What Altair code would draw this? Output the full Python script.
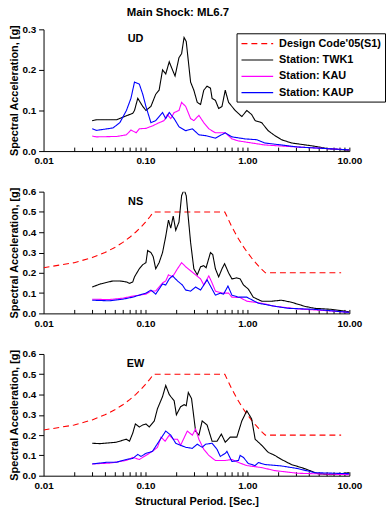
import altair as alt
import pandas as pd

# ---------------- data (periods in sec, spectral acceleration in g) ----------------
SERIES = ["Design Code'05(S1)", "Station: TWK1", "Station: KAU", "Station: KAUP"]
COLORS = ["#ff0000", "#000000", "#ff00ff", "#0000ff"]
DASHES = [[6, 4], [1, 0], [1, 0], [1, 0]]

code_T = [0.01, 0.02, 0.03, 0.04, 0.05, 0.06, 0.07, 0.08, 0.09, 0.10, 0.11, 0.12,
          0.60, 0.70, 0.80, 0.90, 1.00, 1.10, 1.20, 1.30, 1.40, 1.50, 8.3]
code_Sa = [0.225, 0.25, 0.275, 0.30, 0.325, 0.35, 0.375, 0.40, 0.425, 0.45, 0.475, 0.50,
           0.50, 0.4286, 0.375, 0.333, 0.30, 0.273, 0.25, 0.231, 0.214, 0.20, 0.20]

# UD
ud_twk1_T = [0.03, 0.033, 0.052, 0.065, 0.075, 0.078, 0.084, 0.094, 0.101, 0.113, 0.126, 0.136,
             0.147, 0.158, 0.171, 0.184, 0.195, 0.213, 0.226, 0.239, 0.251, 0.277, 0.298, 0.322,
             0.347, 0.373, 0.402, 0.434, 0.45, 0.485, 0.522, 0.563, 0.606, 0.653, 0.759, 0.881,
             0.986, 1.10, 1.19, 1.38, 1.60, 1.86, 2.16, 2.70, 4.55, 6.13, 10.0]
ud_twk1_Sa = [0.075, 0.077, 0.077, 0.087, 0.093, 0.10, 0.13, 0.11, 0.10, 0.11, 0.14, 0.15,
              0.20, 0.19, 0.22, 0.20, 0.185, 0.23, 0.24, 0.28, 0.27, 0.17, 0.15, 0.12,
              0.115, 0.15, 0.16, 0.155, 0.13, 0.125, 0.105, 0.11, 0.15, 0.12, 0.10, 0.085,
              0.10, 0.09, 0.075, 0.07, 0.05, 0.038, 0.028, 0.02, 0.012, 0.006, 0.002]
ud_kau_T = [0.03, 0.033, 0.052, 0.065, 0.072, 0.081, 0.087, 0.101, 0.117, 0.136, 0.152, 0.164,
            0.177, 0.191, 0.213, 0.226, 0.248, 0.277, 0.298, 0.334, 0.373, 0.418, 0.485, 0.606,
            0.704, 0.817, 1.10, 1.48, 3.13, 10.0]
ud_kau_Sa = [0.037, 0.035, 0.036, 0.04, 0.052, 0.045, 0.055, 0.056, 0.062, 0.07, 0.075, 0.09,
             0.08, 0.095, 0.10, 0.12, 0.11, 0.08, 0.075, 0.088, 0.07, 0.055, 0.045, 0.045,
             0.03, 0.025, 0.02, 0.015, 0.01, 0.003]
ud_kaup_T = [0.03, 0.033, 0.048, 0.056, 0.065, 0.072, 0.078, 0.087, 0.094, 0.101, 0.113, 0.126,
             0.147, 0.158, 0.171, 0.191, 0.213, 0.248, 0.288, 0.334, 0.388, 0.485, 0.606, 0.704,
             0.949, 1.23, 1.48, 3.13, 10.0]
ud_kaup_Sa = [0.055, 0.051, 0.057, 0.07, 0.10, 0.13, 0.17, 0.165, 0.14, 0.11, 0.07, 0.075,
              0.095, 0.08, 0.095, 0.08, 0.06, 0.05, 0.055, 0.04, 0.038, 0.032, 0.045, 0.035,
              0.03, 0.028, 0.02, 0.01, 0.003]

# NS
ns_twk1_T = [0.03, 0.036, 0.048, 0.056, 0.065, 0.070, 0.075, 0.078, 0.087, 0.094, 0.101, 0.105,
             0.113, 0.119, 0.126, 0.136, 0.147, 0.158, 0.168, 0.177, 0.187, 0.198, 0.213, 0.226,
             0.239, 0.251, 0.277, 0.298, 0.322, 0.347, 0.373, 0.393, 0.434, 0.457, 0.485, 0.522,
             0.563, 0.597, 0.653, 0.704, 0.787, 0.848, 0.914, 1.02, 1.14, 1.38, 1.72, 2.16,
             2.70, 3.64, 4.55, 6.61, 10.0]
ns_twk1_Sa = [0.13, 0.145, 0.16, 0.16, 0.155, 0.148, 0.155, 0.18, 0.22, 0.24, 0.25, 0.31,
              0.30, 0.28, 0.22, 0.25, 0.30, 0.38, 0.46, 0.42, 0.48, 0.41, 0.45, 0.58,
              0.61, 0.58, 0.35, 0.22, 0.19, 0.23, 0.235, 0.225, 0.30, 0.29, 0.22, 0.18,
              0.22, 0.245, 0.20, 0.17, 0.175, 0.17, 0.14, 0.12, 0.08, 0.06, 0.06, 0.065,
              0.055, 0.035, 0.025, 0.02, 0.008]
ns_kau_T = [0.03, 0.044, 0.060, 0.075, 0.087, 0.101, 0.113, 0.126, 0.136, 0.147, 0.158, 0.168,
            0.184, 0.206, 0.226, 0.248, 0.277, 0.310, 0.347, 0.373, 0.418, 0.450, 0.485, 0.563,
            0.653, 0.704, 0.848, 0.986, 1.38, 1.86, 3.13, 6.61, 10.0]
ns_kau_Sa = [0.07, 0.068, 0.075, 0.085, 0.09, 0.095, 0.11, 0.11, 0.13, 0.15, 0.16, 0.19,
             0.18, 0.22, 0.25, 0.23, 0.21, 0.19, 0.17, 0.14, 0.185, 0.15, 0.11, 0.10,
             0.10, 0.08, 0.078, 0.06, 0.05, 0.035, 0.022, 0.012, 0.005]
ns_kaup_T = [0.03, 0.044, 0.060, 0.075, 0.087, 0.101, 0.113, 0.126, 0.136, 0.147, 0.158, 0.171,
             0.184, 0.206, 0.230, 0.248, 0.277, 0.310, 0.347, 0.402, 0.450, 0.485, 0.542, 0.584,
             0.644, 0.704, 0.817, 0.986, 1.28, 1.86, 2.50, 4.55, 10.0]
ns_kaup_Sa = [0.065, 0.062, 0.07, 0.08, 0.09, 0.10, 0.115, 0.095, 0.12, 0.145, 0.14, 0.17,
              0.185, 0.16, 0.14, 0.115, 0.11, 0.13, 0.115, 0.165, 0.12, 0.09, 0.10, 0.095,
              0.135, 0.09, 0.08, 0.08, 0.05, 0.035, 0.025, 0.02, 0.005]

# EW
ew_twk1_T = [0.03, 0.036, 0.0517, 0.060, 0.0646, 0.0697, 0.075, 0.0796, 0.0871, 0.0938, 0.101,
             0.109, 0.122, 0.131, 0.147, 0.158, 0.171, 0.177, 0.191, 0.201, 0.221, 0.239, 0.251,
             0.263, 0.283, 0.310, 0.334, 0.360, 0.402, 0.450, 0.503, 0.555, 0.606, 0.678, 0.787,
             0.881, 0.986, 1.10, 1.19, 1.38, 1.60, 1.86, 2.16, 2.70, 3.64, 4.90, 6.61, 10.0]
ew_twk1_Sa = [0.16, 0.158, 0.165, 0.175, 0.18, 0.17, 0.21, 0.255, 0.24, 0.25, 0.255,
              0.24, 0.27, 0.33, 0.39, 0.445, 0.40, 0.39, 0.37, 0.30, 0.34, 0.35, 0.345,
              0.41, 0.38, 0.22, 0.20, 0.27, 0.25, 0.17, 0.17, 0.205, 0.165, 0.19, 0.19,
              0.27, 0.32, 0.28, 0.18, 0.15, 0.115, 0.10, 0.08, 0.055, 0.035, 0.01, 0.005, 0.015]
ew_kau_T = [0.03, 0.0445, 0.0646, 0.075, 0.0871, 0.101, 0.117, 0.131, 0.142, 0.156, 0.171, 0.187,
            0.206, 0.221, 0.257, 0.288, 0.310, 0.334, 0.373, 0.418, 0.485, 0.606, 0.704, 0.817,
            0.986, 1.38, 1.86, 3.13, 10.0]
ew_kau_Sa = [0.058, 0.062, 0.075, 0.09, 0.08, 0.10, 0.12, 0.14, 0.19, 0.17, 0.20, 0.18,
             0.18, 0.15, 0.22, 0.20, 0.23, 0.18, 0.13, 0.10, 0.075, 0.075, 0.08, 0.065,
             0.05, 0.04, 0.025, 0.012, 0.005]
ew_kaup_T = [0.03, 0.0413, 0.0517, 0.0646, 0.075, 0.084, 0.0904, 0.101, 0.117, 0.136, 0.158,
             0.177, 0.198, 0.221, 0.248, 0.288, 0.322, 0.360, 0.388, 0.450, 0.503, 0.542, 0.606,
             0.629, 0.704, 0.817, 0.848, 0.914, 1.02, 1.19, 1.28, 1.48, 2.16, 3.13, 4.55, 10.0]
ew_kaup_Sa = [0.058, 0.066, 0.066, 0.08, 0.085, 0.105, 0.095, 0.11, 0.12, 0.17, 0.22,
              0.20, 0.16, 0.15, 0.14, 0.135, 0.155, 0.14, 0.155, 0.16, 0.13, 0.095, 0.11,
              0.12, 0.07, 0.075, 0.10, 0.09, 0.06, 0.05, 0.065, 0.055, 0.048, 0.035, 0.015, 0.01]

# axis ticks / labels
MAJOR_T = [0.01, 0.1, 1.0, 10.0]
TICK_T = [0.02, 0.03, 0.04, 0.05, 0.06, 0.07, 0.08, 0.09, 0.1,
          0.2, 0.3, 0.4, 0.5, 0.6, 0.7, 0.8, 0.9, 1.0,
          2, 3, 4, 5, 6, 7, 8, 9, 10]
Y_TICKS_UD = [0.0, 0.1, 0.2, 0.3]
Y_TICKS = [0.0, 0.1, 0.2, 0.3, 0.4, 0.5, 0.6]

# panel labels (component, period, Sa)
PANEL_NAMES = ["UD", "NS", "EW"]
PANEL_LABEL_T = [0.08, 0.08, 0.08]
PANEL_LABEL_SA = [0.275, 0.55, 0.55]

FONT = "Liberation Sans"
W, H = 309, 123


def build_df(items):
    rows = []
    for name, T, S in items:
        for t, s in zip(T, S):
            rows.append({"series": name, "T": t, "Sa": s})
    return pd.DataFrame(rows)


def panel(idx, items, ymax, yticks, legend_on, xtitle):
    x_scale = alt.Scale(type="log", domain=[0.01, 10], nice=False)
    y_scale = alt.Scale(domain=[0, ymax], nice=False, zero=True)
    y_axis = alt.Axis(values=yticks, format=".1f", tickSize=5, labelPadding=3,
                      title="Spectral Acceleration, [g]", titlePadding=2)
    if legend_on:
        leg = alt.Legend(orient="none", legendX=195, legendY=4, title=None,
                         strokeColor="black", fillColor="white", padding=4,
                         symbolType="M-1,0L4.82,0", symbolSize=121, symbolStrokeWidth=1.2,
                         labelFont=FONT, labelFontWeight="bold", labelFontSize=11,
                         labelColor="black", rowPadding=4.5, labelOffset=26,
                         labelLimit=300)
    else:
        leg = None
    lines = alt.Chart(build_df(items)).mark_line(strokeWidth=1.1, clip=True).encode(
        x=alt.X("T:Q", scale=x_scale,
                axis=alt.Axis(orient="bottom", values=MAJOR_T, format=".2f", tickSize=0,
                              labelPadding=5, labelFlush=False, labelOverlap=False,
                              title=xtitle, titlePadding=5, grid=False)),
        y=alt.Y("Sa:Q", scale=y_scale, axis=y_axis),
        color=alt.Color("series:N", scale=alt.Scale(domain=SERIES, range=COLORS), legend=leg),
        strokeDash=alt.StrokeDash("series:N", scale=alt.Scale(domain=SERIES, range=DASHES), legend=leg),
    )
    lab_df = pd.DataFrame({"T": [PANEL_LABEL_T[idx]], "Sa": [PANEL_LABEL_SA[idx]],
                           "txt": [PANEL_NAMES[idx]]})
    lab = alt.Chart(lab_df).mark_text(font=FONT, fontWeight="bold", fontSize=11,
                                      color="black").encode(
        x=alt.X("T:Q", scale=x_scale,
                axis=alt.Axis(orient="top", offset=-H, values=TICK_T, labels=False,
                              domain=False, tickSize=4, title=None, grid=False)),
        y=alt.Y("Sa:Q", scale=y_scale, axis=y_axis),
        text="txt:N",
    )
    return alt.layer(lines, lab).resolve_axis(x="independent").properties(width=W, height=H)


top = panel(0, [(SERIES[1], ud_twk1_T, ud_twk1_Sa), (SERIES[2], ud_kau_T, ud_kau_Sa),
                (SERIES[3], ud_kaup_T, ud_kaup_Sa)], 0.3, Y_TICKS_UD, True, None)
top = top.properties(title=alt.TitleParams("Main Shock: ML6.7", anchor="start", dx=119,
                                           font=FONT, fontWeight="bold", fontSize=11.5,
                                           color="black", offset=6))
mid = panel(1, [(SERIES[0], code_T, code_Sa), (SERIES[1], ns_twk1_T, ns_twk1_Sa),
                (SERIES[2], ns_kau_T, ns_kau_Sa), (SERIES[3], ns_kaup_T, ns_kaup_Sa)],
            0.6, Y_TICKS, False, None)
bot = panel(2, [(SERIES[0], code_T, code_Sa), (SERIES[1], ew_twk1_T, ew_twk1_Sa),
                (SERIES[2], ew_kau_T, ew_kau_Sa), (SERIES[3], ew_kaup_T, ew_kaup_Sa)],
            0.6, Y_TICKS, False, "Structural Period. [Sec.]")

chart = alt.vconcat(top, mid, bot, spacing=41, bounds="flush").resolve_scale(
    color="independent", strokeDash="independent"
).properties(
    padding={"left": 9, "top": 4, "right": 0, "bottom": 0},
    background="white",
).configure_view(stroke=None).configure_axis(
    labelFont=FONT, titleFont=FONT, labelFontWeight="bold", titleFontWeight="bold",
    labelFontSize=10, titleFontSize=11, labelColor="black", titleColor="black",
    domainColor="black", tickColor="black", domainWidth=1, tickWidth=1, grid=False,
)

chart.save("out.html", embed_options={"renderer": "svg", "actions": False})
